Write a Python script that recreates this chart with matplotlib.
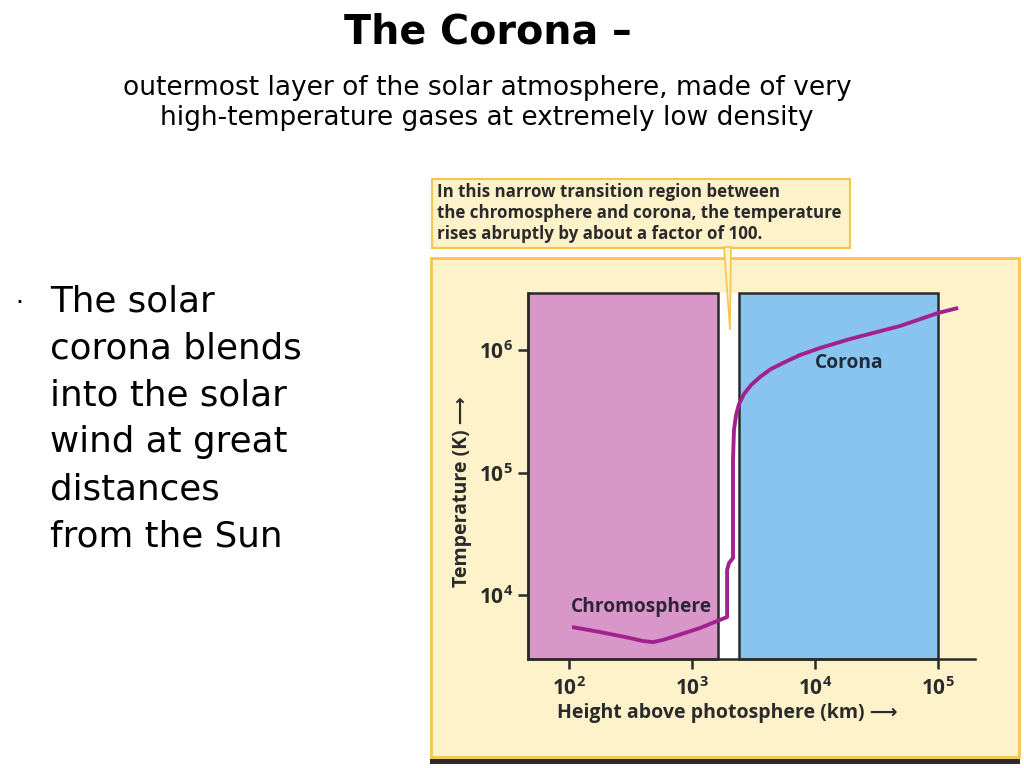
import matplotlib.pyplot as plt
from matplotlib.patches import Rectangle, Polygon
import numpy as np

plt.rcParams['mathtext.fontset'] = 'custom'
plt.rcParams['mathtext.rm'] = 'Open Sans'
plt.rcParams['mathtext.bf'] = 'Open Sans:bold'

# temperature profile
height_km = [106, 179, 313, 400, 482, 581, 728, 1161, 1754, 1928, 1928, 1928, 2000,
             2153, 2153, 2193, 2280, 2410, 2649, 3020, 3573, 4385, 5702, 7551,
             10990, 19280, 49090, 100000, 145500]
temp_k = [5480, 4990, 4460, 4210, 4130, 4300, 4620, 5380, 6370, 6610, 9100, 16000,
          18240, 20040, 126500, 222300, 294400, 362200, 437500, 517600, 602600,
          699800, 798000, 909900, 1038000, 1230000, 1570000, 2004000, 2203000]

chromo_range = [10 ** 1.667, 10 ** 3.211]
corona_range = [10 ** 3.382, 1e5]
x_ticks = [1e2, 1e3, 1e4, 1e5]
x_labels = [r'$\mathbf{10^{2}}$', r'$\mathbf{10^{3}}$', r'$\mathbf{10^{4}}$', r'$\mathbf{10^{5}}$']
y_ticks = [1e4, 1e5, 1e6]
y_labels = [r'$\mathbf{10^{4}}$', r'$\mathbf{10^{5}}$', r'$\mathbf{10^{6}}$']

title = "The Corona –"
subtitle = "outermost layer of the solar atmosphere, made of very\nhigh-temperature gases at extremely low density"
bullet = "The solar\ncorona blends\ninto the solar\nwind at great\ndistances\nfrom the Sun"
callout = ("In this narrow transition region between\n"
           "the chromosphere and corona, the temperature\n"
           "rises abruptly by about a factor of 100.")

W, H = 1024, 768
def fx(px):
    return px / W
def fy(py):
    return 1 - py / H

fig = plt.figure(figsize=(10.24, 7.68), dpi=100)
fig.patch.set_facecolor('white')

panel_fill = '#fdf2c9'
panel_edge = '#f5c452'
dark = '#2a2a2a'

# yellow panel and bottom rule
fig.add_artist(Rectangle((fx(431), fy(757)), fx(1019) - fx(431), fy(258) - fy(757),
                         transform=fig.transFigure, facecolor=panel_fill,
                         edgecolor=panel_edge, lw=2, zorder=-2))
fig.add_artist(Rectangle((fx(430), fy(764)), fx(1020) - fx(430), fy(759) - fy(764),
                         transform=fig.transFigure, facecolor='#2b2b2b',
                         edgecolor='none', zorder=-2))
# callout box
fig.add_artist(Rectangle((fx(432), fy(248)), fx(850) - fx(432), fy(179) - fy(248),
                         transform=fig.transFigure, facecolor=panel_fill,
                         edgecolor=panel_edge, lw=1.5, zorder=2))
fig.add_artist(Polygon([(fx(724), fy(247)), (fx(731), fy(247)), (fx(730), fy(330))],
                       closed=True, transform=fig.transFigure, facecolor=panel_fill,
                       edgecolor=panel_edge, lw=1.2, zorder=5))
fig.text(fx(437), fy(213), callout, ha='left', va='center', fontsize=12.2,
         fontweight='bold', family='Open Sans', color=dark, linespacing=1.22)

ax = fig.add_axes([fx(528), fy(659), fx(975) - fx(528), fy(293) - fy(659)])
ax.set_facecolor('none')
ax.set_xscale('log')
ax.set_yscale('log')
ax.set_xlim(10 ** 1.667, 10 ** 5.30)
ax.set_ylim(10 ** 3.478, 10 ** 6.465)

ax.axvspan(chromo_range[0], chromo_range[1], facecolor='#d897c8', edgecolor=dark,
           lw=1.8, zorder=1, clip_on=False)
ax.axvspan(corona_range[0], corona_range[1], facecolor='#88c4ee', edgecolor=dark,
           lw=1.8, zorder=1, clip_on=False)
ax.axvspan(chromo_range[1], corona_range[0], facecolor='white', edgecolor='none', zorder=0.5)

ax.plot(height_km, temp_k, color='#a3218e', lw=2.8, zorder=3, clip_on=False,
        solid_joinstyle='round', solid_capstyle='butt')

ax.text(10 ** 2.59, 10 ** 3.90, "Chromosphere", ha='center', va='center', fontsize=13.8,
        fontweight='bold', family='Open Sans', color='#2d2438', zorder=4)
ax.text(10 ** 4.28, 10 ** 5.895, "Corona", ha='center', va='center', fontsize=13.8,
        fontweight='bold', family='Open Sans', color='#1f2a3a', zorder=4)

for s in ['top', 'right']:
    ax.spines[s].set_visible(False)
for s in ['left', 'bottom']:
    ax.spines[s].set_color(dark)
    ax.spines[s].set_linewidth(1.8)
ax.set_xticks(x_ticks, x_labels)
ax.set_yticks(y_ticks, y_labels)
ax.minorticks_off()
ax.tick_params(axis='both', length=7, width=1.8, color=dark, labelsize=15, labelcolor=dark)
ax.tick_params(axis='x', pad=5)
ax.tick_params(axis='y', pad=4)

fig.text(fx(727), fy(713), "Height above photosphere (km) ⟶", ha='center', va='center',
         fontsize=14, fontweight='bold', family=['Open Sans', 'DejaVu Sans'], color=dark)
fig.text(fx(462), fy(492), "Temperature (K) ⟶", ha='center', va='center', rotation=90,
         fontsize=14, fontweight='bold', family=['Open Sans', 'DejaVu Sans'], color=dark)

# slide text
fig.text(fx(488), fy(33), title, ha='center', va='center', fontsize=28.5,
         fontweight='bold', family='DejaVu Sans', color='black')
fig.text(fx(487), fy(103), subtitle, ha='center', va='center', fontsize=19,
         family='DejaVu Sans', color='black', linespacing=1.2)
fig.text(fx(15), fy(303), "·", ha='left', va='center', fontsize=18, color='black')
fig.text(fx(50), fy(419), bullet, ha='left', va='center', fontsize=25.7,
         family='DejaVu Sans', color='black', linespacing=1.48)

fig.savefig('out.png', dpi=100)
